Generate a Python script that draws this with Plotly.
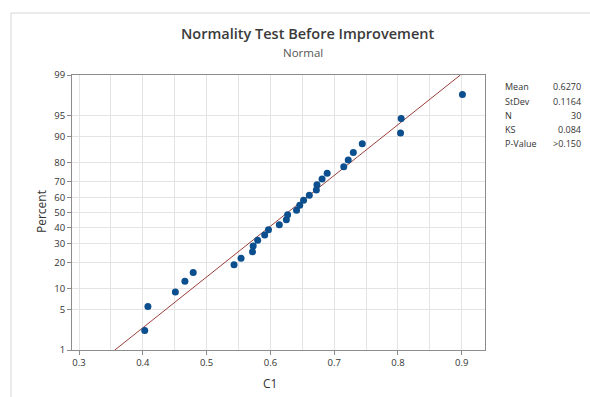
import plotly.graph_objects as go
from statistics import NormalDist

# Data (sorted C1 values) and plotted percents
c1_values = [0.403, 0.408, 0.451, 0.466, 0.479, 0.543, 0.554, 0.572, 0.573, 0.580,
             0.591, 0.597, 0.614, 0.625, 0.627, 0.641, 0.646, 0.652, 0.661, 0.672,
             0.673, 0.681, 0.689, 0.715, 0.722, 0.730, 0.744, 0.804, 0.805, 0.901]
percents = [2.3, 5.6, 8.9, 12.2, 15.5, 18.8, 22.0, 25.3, 28.6, 31.9,
            35.2, 38.5, 41.8, 45.1, 48.4, 51.6, 54.9, 58.2, 61.5, 64.8,
            68.1, 71.4, 74.7, 78.0, 81.3, 84.5, 87.8, 91.1, 94.4, 97.7]
y_ticks = [1, 5, 10, 20, 30, 40, 50, 60, 70, 80, 90, 95, 99]
x_ticks = [0.3, 0.4, 0.5, 0.6, 0.7, 0.8, 0.9]
mean_val = 0.6270
stdev_val = 0.1164
stats_labels = ["Mean", "StDev", "N", "KS", "P-Value"]
stats_values = ["0.6270", "0.1164", "30", "0.084", ">0.150"]

nd = NormalDist()
z = lambda p: nd.inv_cdf(p / 100.0)

pts_z = [z(p) for p in percents]
zlo, zhi = z(1), z(99)
line_x = [mean_val + stdev_val * zlo, mean_val + stdev_val * zhi]

FONT = "Open Sans"
fig = go.Figure()
fig.add_trace(go.Scatter(x=line_x, y=[zlo, zhi], mode="lines",
                         line=dict(color="#9a3f3a", width=1), hoverinfo="skip"))
fig.add_trace(go.Scatter(x=c1_values, y=pts_z, mode="markers",
                         marker=dict(color="#0b4f8e", size=7)))

fig.update_layout(
    width=590, height=397, showlegend=False,
    margin=dict(l=72, r=105, t=75, b=47),
    paper_bgcolor="white", plot_bgcolor="white",
    font=dict(family=FONT, color="#333333", size=10),
    xaxis=dict(range=[0.289, 0.9364], tickvals=x_ticks, ticktext=[str(v) for v in x_ticks],
               showgrid=True, gridcolor="#e4e4e4", gridwidth=1,
               minor=dict(tickvals=[0.35, 0.45, 0.55, 0.65, 0.75, 0.85], showgrid=True,
                          gridcolor="#e4e4e4", ticks=""),
               showline=True, linecolor="#8c8c8c", linewidth=1, mirror=True,
               ticks="outside", ticklen=4, tickcolor="#8c8c8c", zeroline=False,
               tickfont=dict(size=9.5, color="#333333")),
    yaxis=dict(range=[zlo, zhi], tickvals=[z(v) for v in y_ticks],
               ticktext=[str(v) for v in y_ticks],
               showgrid=True, gridcolor="#e4e4e4", gridwidth=1,
               showline=True, linecolor="#8c8c8c", linewidth=1, mirror=True,
               ticks="outside", ticklen=4, tickcolor="#8c8c8c", zeroline=False,
               tickfont=dict(size=9.5, color="#333333")),
)

W, H = 413.0, 275.0
px = lambda p: (p - 72) / W
py = lambda p: (350 - p) / H

ann = [
    dict(text="Normality Test Before Improvement", x=px(307), y=py(34),
         font=dict(size=14.5, color="#3a3a3a", family=FONT, weight=600)),
    dict(text="Normal", x=px(303), y=py(53), font=dict(size=11.5, color="#555555")),
    dict(text="Percent", x=px(41), y=py(212), textangle=-90, font=dict(size=12, color="#333333")),
    dict(text="C1", x=px(270), y=py(383), font=dict(size=12, color="#333333")),
]
rows_y = [87, 101, 115, 129, 143]
for lab, val, ry in zip(stats_labels, stats_values, rows_y):
    ann.append(dict(text=lab, x=px(503), y=py(ry), xanchor="left", font=dict(size=9)))
    ann.append(dict(text=val, x=px(583), y=py(ry), xanchor="right", font=dict(size=9)))
for a in ann:
    a.setdefault("xanchor", "center")
    a.update(xref="paper", yref="paper", yanchor="middle", showarrow=False)
    fig.add_annotation(**a)

fig.add_shape(type="line", xref="paper", yref="paper", x0=px(11), x1=px(590), y0=py(13), y1=py(13),
              line=dict(color="#d6d6d6", width=1))
fig.add_shape(type="line", xref="paper", yref="paper", x0=px(11), x1=px(11), y0=py(13), y1=py(397),
              line=dict(color="#d6d6d6", width=1))

fig.write_html("out.html")
